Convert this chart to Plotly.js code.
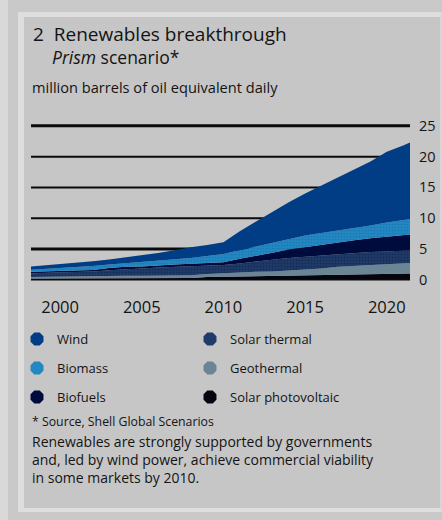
<!DOCTYPE html>
<html>
<head>
<meta charset="utf-8">
<script src="https://cdn.plot.ly/plotly-3.0.1.min.js"></script>
<style>
  html, body { margin: 0; padding: 0; width: 442px; height: 520px; overflow: hidden; background: #c9c9c9; }
  #strip { position: absolute; left: 0; top: 0; width: 8px; height: 520px; background: #d9d9d9; }
  #panel { position: absolute; left: 18px; top: 12px; width: 424px; height: 500px; box-sizing: border-box;
           border-left: 6px solid #dedede; border-top: 5px solid #dedede; border-bottom: 4px solid #dedede; border-right: 2px solid #d6d6d6;
           background: #c6c6c6; }
  #chart { position: absolute; left: 0; top: 0; width: 442px; height: 520px; }
</style>
</head>
<body>
<div id="strip"></div>
<div id="panel"></div>
<div id="chart"></div>
<script>
// ---- data (million barrels of oil equivalent daily, stacked layers) ----
const years = [1998,1999,2000,2001,2002,2003,2004,2005,2006,2007,2008,2009,2010,2011,2012,2013,2014,2015,2016,2017,2018,2019,2020,2021,2022];
const solarPV      = [0.2,0.2,0.2,0.2,0.2,0.2,0.2,0.2,0.2,0.25,0.3,0.45,0.5,0.5,0.55,0.6,0.65,0.7,0.75,0.8,0.85,0.9,0.95,1.0,1.05];
const geothermal   = [0.25,0.3,0.35,0.4,0.45,0.45,0.45,0.45,0.5,0.45,0.45,0.5,0.6,0.7,0.75,0.75,0.85,0.95,1.1,1.3,1.4,1.45,1.55,1.65,1.75];
const solarThermal = [0.6,0.6,0.6,0.65,0.7,0.9,1.1,1.2,1.3,1.4,1.45,1.35,1.3,1.45,1.65,1.95,2.05,2.1,2.1,2.05,2.05,2.15,2.1,2.05,2.05];
const biofuels     = [0.25,0.3,0.3,0.25,0.25,0.35,0.35,0.3,0.35,0.4,0.4,0.4,0.45,0.75,1.0,1.1,1.35,1.55,1.7,1.9,2.1,2.25,2.4,2.55,2.65];
const biomass      = [0.3,0.35,0.45,0.6,0.65,0.6,0.6,0.8,0.8,0.85,0.95,1.15,1.35,1.4,1.45,1.6,1.7,1.9,1.95,1.95,1.95,2.05,2.3,2.5,2.6];
const wind         = [0.5,0.55,0.6,0.65,0.75,0.8,0.95,1.0,1.2,1.45,1.75,1.8,1.9,3.1,4.1,5.1,6.0,6.8,7.7,8.6,9.45,10.4,11.5,12.05,12.9];

const seriesNames  = ['Solar photovoltaic','Geothermal','Solar thermal','Biofuels','Biomass','Wind'];
const seriesValues = [solarPV, geothermal, solarThermal, biofuels, biomass, wind];
const seriesColors = ['#05050f','#6b8594','#1f3b69','#000b3d','#2287c2','#003d85'];

const xTicks = [2000,2005,2010,2015,2020];
const yTicks = [0,5,10,15,20,25];
const gridValues = [5,10,15,20,25];
const gridWidths = [3,2,2,2,3];

// legend layout: rows of [name] pairs
const legendRows = [['Wind','Solar thermal'],['Biomass','Geothermal'],['Biofuels','Solar photovoltaic']];

const titleLine1 = '2&nbsp;&nbsp;Renewables breakthrough';
const titleLine2 = '<i>Prism</i> scenario*';
const unitsText = 'million barrels of oil equivalent daily';
const sourceText = '* Source, Shell Global Scenarios';
const captionText = 'Renewables are strongly supported by governments<br>and, led by wind power, achieve commercial viability<br>in some markets by 2010.';

// ---- geometry helpers (layout only) ----
const W = 442, H = 520, ML = 31, MR = 32, MT = 124, MB = 239;
const PW = W - ML - MR, PH = H - MT - MB;
const px2x = p => (p - ML) / PW;
const px2y = p => (H - MB - p) / PH;

const txt = '#141414';
const FONT = '"Open Sans", Lato, sans-serif';

const traces = [];
seriesNames.forEach((n, i) => {
  const t = {
    type: 'scatter', mode: 'lines', x: years, y: seriesValues[i], name: n,
    stackgroup: 'one', line: { width: 0, color: seriesColors[i] },
    fillcolor: seriesColors[i], showlegend: false, hoverinfo: 'x+y+name'
  };
  if (n === 'Solar thermal') t.fillpattern = { shape: '.', fgcolor: '#152d55', bgcolor: seriesColors[i], size: 3, solidity: 0.35 };
  if (n === 'Biomass') t.fillpattern = { shape: '.', fgcolor: '#1b79b0', bgcolor: seriesColors[i], size: 3, solidity: 0.25 };
  traces.push(t);
});

// legend entries (marker symbols) in three row-legends
const legendKeys = ['legend','legend2','legend3'];
legendRows.forEach((row, r) => {
  row.forEach(n => {
    const i = seriesNames.indexOf(n);
    traces.push({
      type: 'scatter', mode: 'markers', x: [null], y: [null], name: n,
      marker: { symbol: 'octagon', size: 14, color: seriesColors[i], line: { width: 0 } },
      legend: legendKeys[r], showlegend: true, hoverinfo: 'skip'
    });
  });
});

const shapes = gridValues.map((v, i) => ({
  type: 'line', xref: 'paper', yref: 'y', x0: 0, x1: 1, y0: v, y1: v,
  line: { color: '#0a0a0a', width: gridWidths[i] }, layer: 'below'
}));
shapes.push({ type: 'line', xref: 'paper', yref: 'y', x0: 0, x1: 1, y0: 0, y1: 0,
  line: { color: '#0a0a0a', width: 1.5 }, layer: 'above' });

const legendRowY = [339, 368, 397];
const legendBase = (y) => ({
  orientation: 'h', x: px2x(17), xanchor: 'left', y: px2y(y), yanchor: 'middle',
  bgcolor: 'rgba(0,0,0,0)', borderwidth: 0, entrywidth: 128,
  font: { family: FONT, size: 13, color: txt }, traceorder: 'normal', itemclick: false
});

const ann = (text, x, y, size, extra) => Object.assign({
  text, xref: 'paper', yref: 'paper', x: px2x(x), y: px2y(y), xanchor: 'left', yanchor: 'middle',
  showarrow: false, align: 'left', font: { family: FONT, size, color: txt }
}, extra || {});

const annotations = [
  ann(titleLine1, 31, 34, 19),
  ann(titleLine2, 50, 57, 17.5),
  ann(unitsText, 30, 87, 14.6),
  ann(sourceText, 30, 421, 12.3),
  ann(captionText, 30, 459.5, 14)
];

const layout = {
  width: W, height: H,
  margin: { l: ML, r: MR, t: MT, b: MB, pad: 0 },
  paper_bgcolor: 'rgba(0,0,0,0)', plot_bgcolor: 'rgba(0,0,0,0)',
  font: { family: FONT, color: txt },
  xaxis: {
    range: [1998.22, 2021.42], tickvals: xTicks, ticktext: xTicks.map(String),
    showgrid: false, zeroline: false, showline: false,
    ticks: 'outside', ticklen: 11, tickcolor: 'rgba(0,0,0,0)',
    tickfont: { family: FONT, size: 16.5, color: txt }, fixedrange: true
  },
  yaxis: {
    range: [-0.2, 25.3], side: 'right', tickvals: yTicks, ticktext: yTicks.map(String),
    showgrid: false, zeroline: false, showline: false,
    ticks: 'outside', ticklen: 5, tickcolor: 'rgba(0,0,0,0)',
    tickfont: { family: FONT, size: 14.5, color: txt }, fixedrange: true
  },
  showlegend: true,
  legend: legendBase(legendRowY[0]),
  legend2: legendBase(legendRowY[1]),
  legend3: legendBase(legendRowY[2]),
  shapes, annotations
};

Plotly.newPlot('chart', traces, layout, { displayModeBar: false, staticPlot: true });
</script>
</body>
</html>
